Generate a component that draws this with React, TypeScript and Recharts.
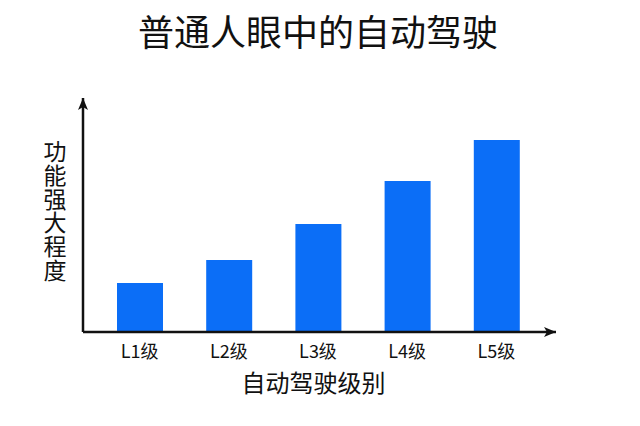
import { Bar, BarChart, XAxis, YAxis, Label } from 'recharts'

const levels = ['L1级', 'L2级', 'L3级', 'L4级', 'L5级']
const strength = [49, 72, 108, 151, 192]
const yLabel = '功能强大程度'

const data = levels.map((level, i) => ({ level, strength: strength[i] }))

const FONT = '"Noto Sans CJK SC", "Noto Sans", sans-serif'

function YLabel(props: any) {
  const vb = props.viewBox || {}
  const cx = 55
  const cy = (vb.y ?? 98) + (vb.height ?? 234) / 2 - 4
  return (
    <text
      x={cx}
      y={cy}
      textAnchor='middle'
      style={{ writingMode: 'vertical-rl', letterSpacing: 0.7 }}
      fontSize={23}
      fill='#111'
      fontFamily={FONT}
    >
      {yLabel}
    </text>
  )
}

export default function App() {
  return (
    <div style={{ position: 'absolute', left: 0, top: 0, width: 640, height: 426, background: '#fff' }}>
      <div
        style={{
          position: 'absolute',
          left: 0,
          width: 636,
          top: 9,
          textAlign: 'center',
          fontFamily: FONT,
          fontSize: 36,
          lineHeight: '42px',
          color: '#111',
        }}
      >
        普通人眼中的自动驾驶
      </div>
      <BarChart
        width={640}
        height={426}
        data={data}
        margin={{ top: 98, right: 84, bottom: 34, left: 63 }}
        style={{ position: 'absolute', left: 0, top: 0 }}
      >
        <defs>
          <marker
            id='arrow'
            viewBox='0 0 12 10'
            refX='12'
            refY='5'
            markerUnits='userSpaceOnUse'
            markerWidth='12'
            markerHeight='10'
            orient='auto-start-reverse'
          >
            <path d='M0,0 L12,5 L0,10 L3,5 Z' fill='#111' />
          </marker>
        </defs>
        <XAxis
          dataKey='level'
          height={60}
          padding={{ left: 12, right: 15 }}
          axisLine={{ stroke: '#111', strokeWidth: 2.5, markerEnd: 'url(#arrow)' }}
          tickLine={false}
          tick={{ fill: '#111', fontSize: 18, fontFamily: FONT }}
          tickMargin={7}
        >
          <Label
            value='自动驾驶级别'
            position='bottom'
            offset={-17}
            dx={-6}
            fill='#111'
            fontSize={24}
            fontFamily={FONT}
          />
        </XAxis>
        <YAxis
          width={20}
          domain={[0, 234]}
          tick={false}
          tickLine={false}
          axisLine={{ stroke: '#111', strokeWidth: 2.5, markerStart: 'url(#arrow)' }}
        >
          <Label content={YLabel} />
        </YAxis>
        <Bar dataKey='strength' fill='#0B6EF7' barSize={46} isAnimationActive={false} />
      </BarChart>
    </div>
  )
}
